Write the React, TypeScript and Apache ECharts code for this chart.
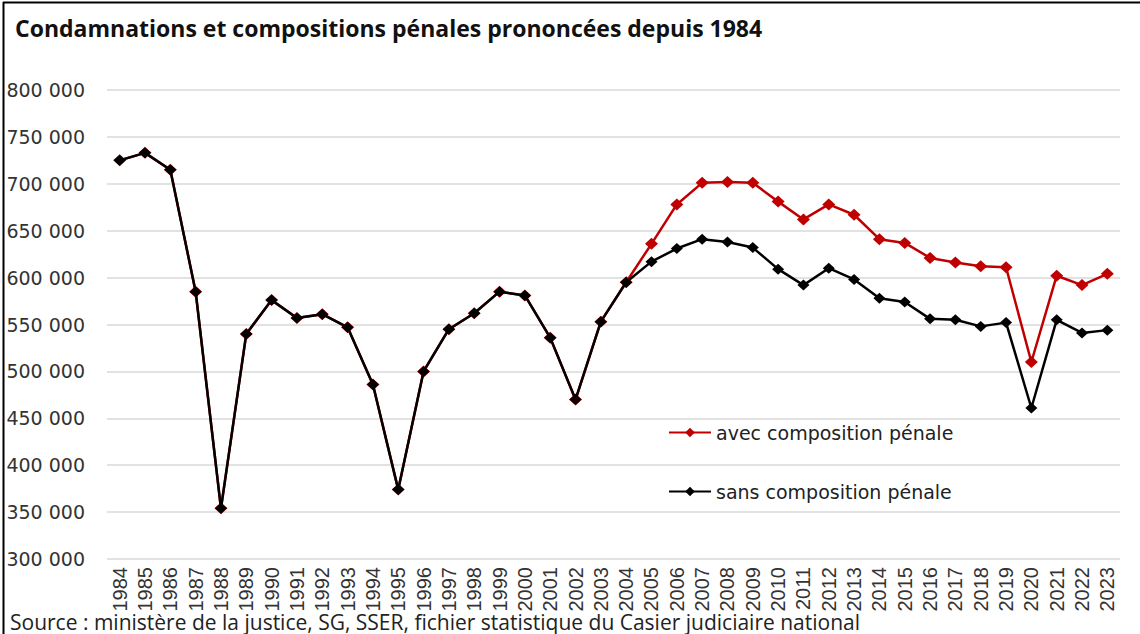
import React, { useEffect, useRef } from "react";
import * as echarts from "echarts";

const years = [
  "1984", "1985", "1986", "1987", "1988", "1989", "1990", "1991", "1992", "1993",
  "1994", "1995", "1996", "1997", "1998", "1999", "2000", "2001", "2002", "2003",
  "2004", "2005", "2006", "2007", "2008", "2009", "2010", "2011", "2012", "2013",
  "2014", "2015", "2016", "2017", "2018", "2019", "2020", "2021", "2022", "2023",
];

const sansComposition = [
  725000, 733000, 715000, 585000, 354000, 540000, 576000, 557000, 561000, 547000,
  486000, 374000, 500000, 545000, 562000, 585000, 581000, 536000, 470000, 553000,
  595000, 617000, 631000, 641000, 638000, 632000, 609000, 592000, 610000, 598000,
  578000, 574000, 556000, 555000, 548000, 552000, 461000, 555000, 541000, 544000,
];

const avecComposition = [
  725000, 733000, 715000, 585000, 354000, 540000, 576000, 557000, 561000, 547000,
  486000, 374000, 500000, 545000, 562000, 585000, 581000, 536000, 470000, 553000,
  595000, 636000, 678000, 701000, 702000, 701000, 681000, 662000, 678000, 667000,
  641000, 637000, 621000, 616000, 612000, 611000, 510000, 602000, 592000, 604000,
];

const yTicks = { min: 300000, max: 800000, interval: 50000 };

const titleText = "Condamnations et compositions pénales prononcées depuis 1984";
const sourceText =
  "Source : ministère de la justice, SG, SSER, fichier statistique du Casier judiciaire national";

const seriesNames = ["avec composition pénale", "sans composition pénale"];

export default function App() {
  const ref = useRef<HTMLDivElement>(null);

  useEffect(() => {
    if (!ref.current) return;
    const chart = echarts.init(ref.current, null, { renderer: "svg" });
    const fmt = (v: number) =>
      String(v).replace(/\B(?=(\d{3})+(?!\d))/g, " ");
    const legendText = { fontFamily: "DejaVu Sans", fontSize: 19, color: "#222222" };
    chart.setOption({
      animation: false,
      backgroundColor: "#ffffff",
      title: {
        text: titleText,
        left: 10,
        top: 11,
        textStyle: {
          fontFamily: "Open Sans",
          fontWeight: "bold",
          fontSize: 23,
          color: "#111111",
        },
      },
      grid: { left: 107, right: 20, top: 90, bottom: 75 },
      legend: [
        {
          data: [seriesNames[0]],
          left: 663,
          top: 418,
          itemWidth: 42,
          itemHeight: 12,
          itemGap: 5,
          textStyle: legendText,
        },
        {
          data: [seriesNames[1]],
          left: 663,
          top: 477,
          itemWidth: 42,
          itemHeight: 12,
          itemGap: 5,
          textStyle: legendText,
        },
      ],
      xAxis: {
        type: "category",
        data: years,
        boundaryGap: true,
        axisLine: { show: false },
        axisTick: { show: false },
        axisLabel: {
          rotate: 90,
          interval: 0,
          margin: 8,
          fontFamily: "Liberation Sans",
          fontSize: 20,
          color: "#333333",
        },
      },
      yAxis: {
        type: "value",
        min: yTicks.min,
        max: yTicks.max,
        interval: yTicks.interval,
        axisLine: { show: false },
        axisTick: { show: false },
        splitLine: { lineStyle: { color: "#d9d9d9", width: 1.5 } },
        axisLabel: {
          formatter: fmt,
          margin: 22,
          fontFamily: "DejaVu Sans",
          fontSize: 19,
          color: "#333333",
        },
      },
      series: [
        {
          name: seriesNames[0],
          type: "line",
          data: avecComposition,
          symbol: "diamond",
          symbolSize: [13, 12],
          lineStyle: { color: "#c00000", width: 2.5 },
          itemStyle: { color: "#c00000" },
          z: 2,
        },
        {
          name: seriesNames[1],
          type: "line",
          data: sansComposition,
          symbol: "diamond",
          symbolSize: [12, 11],
          lineStyle: { color: "#000000", width: 2.5 },
          itemStyle: { color: "#000000" },
          z: 3,
        },
      ],
      graphic: [
        {
          type: "line",
          shape: { x1: 3, y1: 2.5, x2: 1140, y2: 2.5 },
          style: { stroke: "#000000", lineWidth: 2 },
        },
        {
          type: "line",
          shape: { x1: 3.5, y1: 2, x2: 3.5, y2: 634 },
          style: { stroke: "#000000", lineWidth: 2 },
        },
        {
          type: "text",
          left: 10,
          top: 611,
          style: {
            text: sourceText,
            fontFamily: "Open Sans",
            fontSize: 21,
            fill: "#222222",
          },
        },
      ],
    });
    return () => chart.dispose();
  }, []);

  return (
    <div
      ref={ref}
      style={{ position: "fixed", left: 0, top: 0, width: 1140, height: 634 }}
    />
  );
}
